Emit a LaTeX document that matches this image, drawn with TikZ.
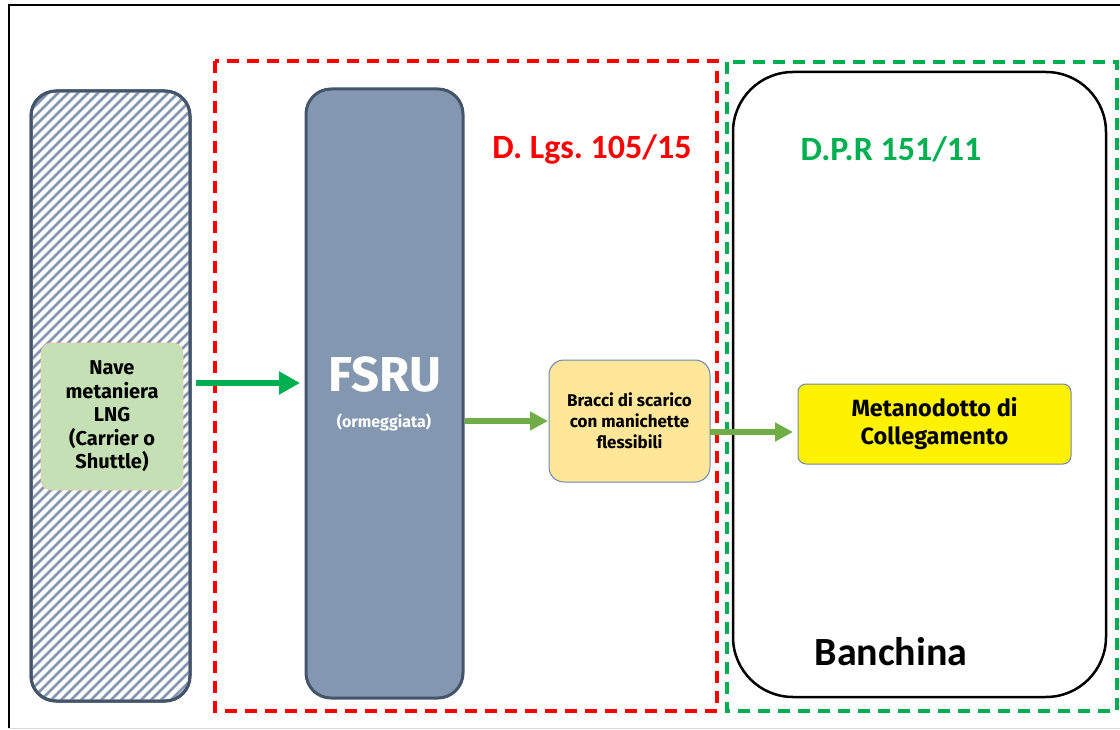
\documentclass[tikz,border=0pt]{standalone}
\usepackage{fontspec}
\setmainfont{Fira Sans}
\newfontfamily\calfont{Carlito}
\usetikzlibrary{arrows.meta,positioning}
\frenchspacing
\definecolor{slateDark}{HTML}{44546A}
\definecolor{slateFill}{HTML}{8497B0}
\definecolor{naveGreen}{HTML}{C5E0B4}
\definecolor{naveEdge}{HTML}{F4C7A4}
\definecolor{arrowGreen}{HTML}{00B050}
\definecolor{flowGreen}{HTML}{70AD47}
\definecolor{braccioFill}{HTML}{FFE699}
\definecolor{boxEdge}{HTML}{6A86B4}
\definecolor{lawRed}{HTML}{FF0000}
\tikzset{
  pillar/.style={draw=slateDark,line width=3pt,rounded corners=25pt,inner sep=0pt,outer sep=0pt},
  unitbox/.style={rounded corners=#1,inner sep=0pt,outer sep=0pt,align=center,font=\bfseries},
  zone/.style={line width=3.2pt,dash pattern=on 12pt off 8pt},
  flow/.style={line width=5.5pt,flowGreen,-{Triangle[length=18pt,width=18pt]}},
  lawlabel/.style={font=\calfont\bfseries\fontsize{34}{40}\selectfont,inner sep=0pt},
}
\begin{document}
\begin{tikzpicture}[x=1pt,y=-1pt]
\useasboundingbox (0,0) rectangle (1120,730);
%% frame
\draw[line width=1.5pt] (9,728) -- (9,5) -- (1120,5);
\draw[line width=1pt,black!15] (9,728.5) -- (1120,728.5);
%% zones
\draw[zone,lawRed] (215,61) rectangle (717,711);
\draw[zone,arrowGreen] (727,62) rectangle (1117,711);
%% banchina
\node (banchina) at (919.5,384.5) [draw,line width=2.5pt,rounded corners=60pt,minimum width=373pt,minimum height=625pt,inner sep=0pt] {};
\node (banchinaText) at (891,652) [font=\calfont\bfseries\fontsize{40}{46}\selectfont,inner sep=0pt] {Banchina};
%% ship (hatched)
\node (ship) at (110.5,396) [pillar,minimum width=159pt,minimum height=610pt] {};
\begin{scope}
  \clip[rounded corners=25pt] (31,91) rectangle (190,701);
  \foreach \k in {-700,-690,...,200}
    \draw[slateFill,line width=2.6pt] (\k,701) -- ++(640,-640);
\end{scope}
\draw[draw=slateDark,line width=3pt,rounded corners=25pt] (31,91) rectangle (190,701);
\node (nave) at (112,416.5) [unitbox=10pt,fill=naveGreen,draw=naveEdge,line width=0.6pt,minimum width=142pt,minimum height=147pt,font=\bfseries\fontsize{20}{23.5}\selectfont] {Nave\\metaniera\\LNG\\(Carrier o\\Shuttle)};
%% fsru
\node (fsru) at (384.5,393.5) [pillar,fill=slateFill,minimum width=157pt,minimum height=609pt] {};
\node (fsruText) at (385,375) [text=white,font=\bfseries\fontsize{49}{54}\selectfont,inner sep=0pt] {FSRU};
\node (fsruSub) at (384,422) [text=white,font=\bfseries\fontsize{16}{19}\selectfont,inner sep=0pt] {(ormeggiata)};
%% bracci
\node (bracci) at (629.5,421) [unitbox=15pt,fill=braccioFill,draw=boxEdge,line width=1pt,minimum width=161pt,minimum height=122pt,font=\bfseries\fontsize{17}{21}\selectfont] {Bracci di scarico\\con manichette\\flessibili};
%% metanodotto
\node (meta) at (934.5,424) [unitbox=8pt,fill=yellow,draw=boxEdge,line width=1pt,minimum width=273pt,minimum height=80pt,font=\bfseries\fontsize{23.5}{28}\selectfont] {Metanodotto di\\Collegamento};
%% laws
\node (lgs) at (592,149) [lawlabel,text=lawRed] {D. Lgs. 105/15};
\node (dpr) at (891,149) [lawlabel,text=arrowGreen] {D.P.R 151/11};
%% flows
\draw[line width=6.5pt,arrowGreen,-{Triangle[length=21pt,width=22pt]}] ([xshift=6pt,yshift=13pt]ship.east) -- ([xshift=-6pt,yshift=13pt]ship.east -| fsru.west);
\draw[flow] ([xshift=2pt]fsru.east |- bracci.west) -- ([xshift=-1pt]bracci.west);
\draw[flow] ([yshift=-8pt]meta.west -| bracci.east) -- ([xshift=-5pt,yshift=-8pt]meta.west);
\end{tikzpicture}
\end{document}
